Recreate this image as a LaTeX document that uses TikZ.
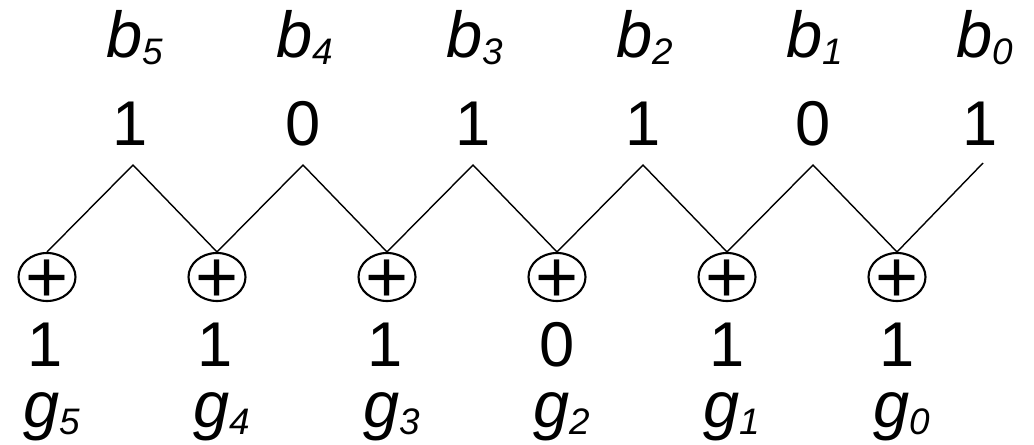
\documentclass[tikz,border=0pt]{standalone}
\usepackage{fontspec}
\setmainfont{Liberation Sans}
\usetikzlibrary{shapes.geometric}
\newcommand{\lbl}[2]{\textit{#1}\raisebox{-4pt}{\fontsize{21}{21}\selectfont\itshape #2}}
\newcommand{\xorplus}{\fontsize{42}{42}\selectfont\raisebox{-0.34em}[0pt][0pt]{\makebox[0pt]{+}}}
\begin{document}
\begin{tikzpicture}[x=0.02cm, y=-0.02cm, every node/.style={font=\fontsize{36}{36}\selectfont},
    digit/.style={anchor=base, inner sep=0pt},
    bitname/.style={anchor=base, inner sep=0pt, font=\fontsize{37}{37}\selectfont},
    xor/.style={draw, ellipse, line width=1.2pt, inner sep=0pt, minimum width=1.14cm, minimum height=0.96cm}]
        \useasboundingbox (0,0) rectangle (1034,444);
        % binary word
        \node[bitname] (b5) at (135,57) {\lbl{b}{5}};
        \node[bitname] (b4) at (305,57) {\lbl{b}{4}};
        \node[bitname] (b3) at (475,57) {\lbl{b}{3}};
        \node[bitname] (b2) at (645,57) {\lbl{b}{2}};
        \node[bitname] (b1) at (815,57) {\lbl{b}{1}};
        \node[bitname] (b0) at (985,57) {\lbl{b}{0}};
        \node[digit] (t5) at (130,145) {1};
        \node[digit] (t4) at (303,145) {0};
        \node[digit] (t3) at (473,145) {1};
        \node[digit] (t2) at (643,145) {1};
        \node[digit] (t1) at (813,145) {0};
        \node[digit] (t0) at (980,145) {1};
        \coordinate (p5) at (133,165);
        \coordinate (p4) at (303,165);
        \coordinate (p3) at (473,165);
        \coordinate (p2) at (643,165);
        \coordinate (p1) at (813,165);
        \coordinate (p0) at (983,163);
        % xor gates
        \node[xor] (x5) at (47,277) {\xorplus};
        \node[xor] (x4) at (217,277) {\xorplus};
        \node[xor] (x3) at (387,277) {\xorplus};
        \node[xor] (x2) at (557,277) {\xorplus};
        \node[xor] (x1) at (727,277) {\xorplus};
        \node[xor] (x0) at (897,277) {\xorplus};
        % gray word
        \node[digit] (s5) at (45,366) {1};
        \node[digit] (s4) at (215,366) {1};
        \node[digit] (s3) at (385,366) {1};
        \node[digit] (s2) at (557,366) {0};
        \node[digit] (s1) at (727,366) {1};
        \node[digit] (s0) at (897,366) {1};
        \node[bitname] (g5) at (52,427) {\lbl{g}{5}};
        \node[bitname] (g4) at (222,427) {\lbl{g}{4}};
        \node[bitname] (g3) at (392,427) {\lbl{g}{3}};
        \node[bitname] (g2) at (562,427) {\lbl{g}{2}};
        \node[bitname] (g1) at (732,427) {\lbl{g}{1}};
        \node[bitname] (g0) at (902,427) {\lbl{g}{0}};
        \draw[line width=0.8pt] (x5.north)--(p5)--(x4.north)--(p4)--(x3.north)--(p3)--(x2.north)
            --(p2)--(x1.north)--(p1)--(x0.north)--(p0);
    \end{tikzpicture}
\end{document}
